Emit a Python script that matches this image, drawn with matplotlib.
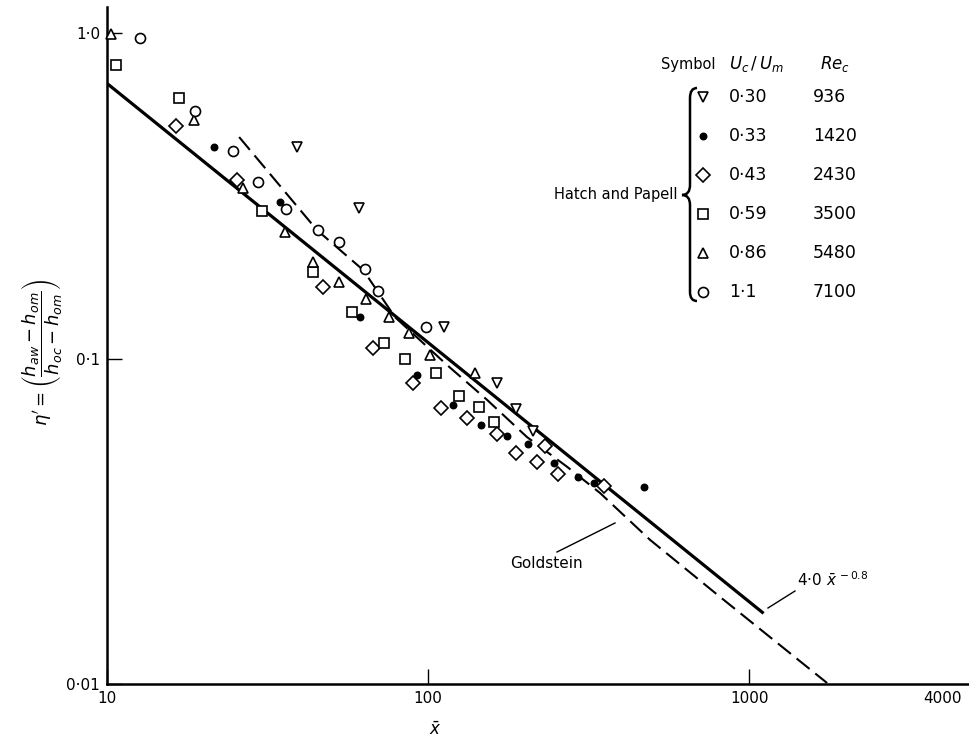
import matplotlib
matplotlib.use("Agg")
import matplotlib.pyplot as plt
from matplotlib.path import Path
from matplotlib.patches import PathPatch
from matplotlib.lines import Line2D

W, H = 969, 739

# values
tri_down_x = [39.1, 61.0, 112, 164, 188, 212]
tri_down_y = [0.446, 0.290, 0.125, 0.0841, 0.0700, 0.0599]

dot_x = [21.5, 34.6, 61.4, 92.4, 119.6, 146.3, 176.2, 204.9, 247, 293, 329, 471]
dot_y = [0.446, 0.303, 0.134, 0.0890, 0.0720, 0.0625, 0.0578, 0.0546, 0.0477,
         0.0432, 0.0414, 0.0403]

diamond_x = [16.4, 25.4, 47.1, 67.4, 89.8, 109.8, 132.3, 164.1, 188.0, 218.6,
             231.4, 254.1, 353.4]
diamond_y = [0.518, 0.353, 0.166, 0.1077, 0.0841, 0.0705, 0.0656, 0.0586,
             0.0513, 0.0481, 0.0538, 0.0442, 0.0406]

square_x = [10.67, 16.75, 30.4, 43.8, 58.0, 72.9, 84.8, 105.9, 124.9, 144.2, 160.6]
square_y = [0.797, 0.631, 0.284, 0.184, 0.139, 0.1116, 0.0997, 0.0903, 0.0767,
            0.0710, 0.0638]

tri_up_x = [10.3, 18.7, 26.5, 35.8, 43.8, 52.8, 64.1, 75.6, 87.3, 101.4, 140.1]
tri_up_y = [0.993, 0.540, 0.334, 0.245, 0.198, 0.172, 0.152, 0.134, 0.120,
            0.1025, 0.0903]

circle_x = [12.67, 18.8, 24.7, 29.5, 36.1, 45.4, 52.8, 63.6, 69.8, 98.6]
circle_y = [0.965, 0.576, 0.434, 0.348, 0.288, 0.248, 0.228, 0.188, 0.161, 0.125]

goldstein_x = [25.8, 45.1, 62.8, 78.9, 114.6, 152.8, 203.2, 271.0, 343.6, 492,
               813, 1750]
goldstein_y = [0.479, 0.248, 0.187, 0.134, 0.0955, 0.0746, 0.0574, 0.0465,
               0.0386, 0.0277, 0.0185, 0.01007]

fit_x = [10, 1100]
fit_y = [0.70, 0.0166]

legend_u = ["0·30", "0·33", "0·43", "0·59", "0·86", "1·1"]
legend_re = ["936", "1420", "2430", "3500", "5480", "7100"]

xticks = [10, 100, 1000, 4000]
xtick_labels = ["10", "100", "1000", "4000"]
yticks = [0.01, 0.1, 1.0]
ytick_labels = ["0·01", "0·1", "1·0"]


def P(x, y):
    # pixel position -> figure fraction
    return x / W, 1 - y / H


plt.rcParams['font.family'] = ['DejaVu Sans']

fig = plt.figure(figsize=(W / 100, H / 100), dpi=100)
ax = fig.add_axes([107 / W, 1 - 684 / H, 861 / W, 677 / H])
ax.set_xscale('log')
ax.set_yscale('log')
ax.set_xlim(10, 4808)
ax.set_ylim(0.01, 1.202)

for s in ['top', 'right']:
    ax.spines[s].set_visible(False)
for s in ['left', 'bottom']:
    ax.spines[s].set_linewidth(1.8)

ax.plot(fit_x, fit_y, color='black', lw=2.3, zorder=2)
ax.plot(goldstein_x, goldstein_y, color='black', lw=1.5, dashes=(8, 3.5), zorder=2)

series = [
    (tri_down_x, tri_down_y, 'v', 7.5, 'white'),
    (dot_x, dot_y, 'o', 4.5, 'black'),
    (diamond_x, diamond_y, 'D', 6.8, 'white'),
    (square_x, square_y, 's', 6.8, 'white'),
    (tri_up_x, tri_up_y, '^', 7.8, 'white'),
    (circle_x, circle_y, 'o', 7.2, 'white'),
]
for xs, ys, m, ms, fc in series:
    ax.plot(xs, ys, ls='none', marker=m, ms=ms, mfc=fc, mec='black', mew=1.2,
            zorder=3, clip_on=False)

ax.xaxis.set_minor_locator(matplotlib.ticker.NullLocator())
ax.yaxis.set_minor_locator(matplotlib.ticker.NullLocator())
ax.set_xticks(xticks)
ax.set_xticklabels(xtick_labels, fontsize=11)
ax.set_yticks(yticks)
ax.set_yticklabels(ytick_labels, fontsize=11)
ax.tick_params(direction='in', length=11, width=1.0, pad=5)
ax.xaxis.get_major_ticks()[3].tick1line.set_visible(False)

ax.set_xlabel(r'$\bar{x}$', fontsize=12)
ax.xaxis.set_label_coords(0.381, -0.055)
ax.set_ylabel(r"$\eta'=\left(\dfrac{h_{aw}-h_{om}}{h_{oc}-h_{om}}\right)$", fontsize=13)
ax.yaxis.set_label_coords(-0.05, 0.49)

# legend table
fig.text(*P(688, 64), "Symbol", fontsize=10.5, ha='center', va='center')
fig.text(*P(729, 64), r"$U_c\,/\,U_m$", fontsize=12, ha='left', va='center')
fig.text(*P(820, 64), r"$Re_c$", fontsize=12, ha='left', va='center')
markers = [('v', 7.5, 'white'), ('o', 4.5, 'black'), ('D', 6.8, 'white'),
           ('s', 6.8, 'white'), ('^', 7.8, 'white'), ('o', 7.2, 'white')]
for i, (m, ms, fc) in enumerate(markers):
    yy = 97 + 39 * i
    fx, fy = P(703, yy)
    fig.add_artist(Line2D([fx], [fy], transform=fig.transFigure, ls='none', marker=m,
                          ms=ms, mfc=fc, mec='black', mew=1.2))
    fig.text(*P(729, yy), legend_u[i], fontsize=12.5, ha='left', va='center')
    fig.text(*P(813, yy), legend_re[i], fontsize=12.5, ha='left', va='center')

verts = [P(697, 88), P(690, 88), P(690, 98), P(690, 185), P(690, 195), P(682, 195),
         P(690, 195), P(690, 205), P(690, 292), P(690, 301), P(697, 301)]
codes = [Path.MOVETO, Path.CURVE3, Path.CURVE3, Path.LINETO, Path.CURVE3, Path.CURVE3,
         Path.CURVE3, Path.CURVE3, Path.LINETO, Path.CURVE3, Path.CURVE3]
fig.add_artist(PathPatch(Path(verts, codes), transform=fig.transFigure, fc='none',
                         ec='black', lw=1.8))
fig.text(*P(678, 195), "Hatch and Papell", fontsize=10.5, ha='right', va='center')

# curve labels
fig.text(*P(546, 563), "Goldstein", fontsize=11, ha='center', va='center')
g0, g1 = P(557, 552), P(615, 523)
fig.add_artist(Line2D([g0[0], g1[0]], [g0[1], g1[1]], transform=fig.transFigure,
                      color='black', lw=1.0))
fig.text(*P(797, 580), r"4·0 $\bar{x}^{\,-0.8}$", fontsize=11, ha='left', va='center')
f0, f1 = P(768, 608), P(795, 591)
fig.add_artist(Line2D([f0[0], f1[0]], [f0[1], f1[1]], transform=fig.transFigure,
                      color='black', lw=1.0))

fig.savefig("out.png", dpi=100)
